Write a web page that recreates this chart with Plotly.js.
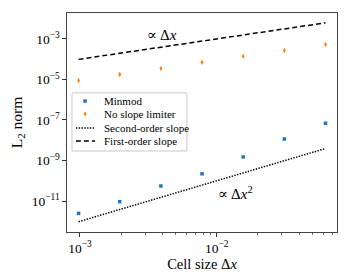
<!DOCTYPE html>
<html>
<head>
<meta charset="utf-8">
<script src="https://cdn.plot.ly/plotly-3.0.1.min.js"></script>
<style>html,body{margin:0;padding:0;background:#fff;}#chart{width:350px;height:280px;}</style>
</head>
<body>
<div id="chart"></div>
<script>
const cellSize = [1/1024, 1/512, 1/256, 1/128, 1/64, 1/32, 1/16];
const minmod = [2.45e-12, 9.3e-12, 5.5e-11, 2.2e-10, 1.5e-9, 1.15e-8, 6.9e-8];
const noLimiter = [8.9e-6, 1.78e-5, 3.5e-5, 7.0e-5, 1.4e-4, 2.7e-4, 5.3e-4];
const slopeX = [1/1024, 1/16];
const secondOrder = [9.5e-13, 3.9e-9];
const firstOrder = [9.8e-5, 6.25e-3];
const seriesNames = ['Minmod', 'No slope limiter', 'Second-order slope', 'First-order slope'];
const xTickVals = [1e-3, 1e-2];
const xTickText = ['10<sup>−3</sup>', '10<sup>−2</sup>'];
const xMinorVals = [2e-3,3e-3,4e-3,5e-3,6e-3,7e-3,8e-3,9e-3,2e-2,3e-2,4e-2,5e-2,6e-2,7e-2];
const yTickVals = [1e-11, 1e-9, 1e-7, 1e-5, 1e-3];
const yTickText = ['10<sup>−11</sup>', '10<sup>−9</sup>', '10<sup>−7</sup>', '10<sup>−5</sup>', '10<sup>−3</sup>'];

const F = 'Liberation Serif, DejaVu Serif, serif';
const BLUE = '#1f77b4', ORANGE = '#ff7f0e';
const traces = [
  {x: cellSize, y: minmod, mode: 'markers', name: seriesNames[0], type: 'scatter',
   marker: {symbol: 'square', size: 3.5, color: BLUE}},
  {x: cellSize, y: noLimiter, mode: 'markers', name: seriesNames[1], type: 'scatter',
   marker: {symbol: 'diamond-tall', size: 4, color: ORANGE}},
  {x: slopeX, y: secondOrder, mode: 'lines', name: seriesNames[2], type: 'scatter',
   line: {color: '#000', width: 1.5, dash: '1.4px,1.4px'}},
  {x: slopeX, y: firstOrder, mode: 'lines', name: seriesNames[3], type: 'scatter',
   line: {color: '#000', width: 1.5, dash: '5px,3px'}}
];

// compact legend (matplotlib style) built from shapes + annotations in paper coords
const legX0 = 0.0185, legX1 = 0.444, legY0 = 0.37, legY1 = 0.635;
const rowY = [0.598, 0.539, 0.475, 0.416];
const symX = 0.067, lineXa = 0.033, lineXb = 0.104, textX = 0.128;
const shapes = [
  {type: 'rect', xref: 'paper', yref: 'paper', x0: legX0, x1: legX1, y0: legY0, y1: legY1,
   line: {color: '#c8c8c8', width: 1}, fillcolor: 'rgba(255,255,255,0.85)', layer: 'above'},
  {type: 'rect', xref: 'paper', yref: 'paper', x0: symX - 0.0065, x1: symX + 0.0065, y0: rowY[0] - 0.008, y1: rowY[0] + 0.008,
   line: {width: 0}, fillcolor: BLUE, layer: 'above'},
  {type: 'path', xref: 'paper', yref: 'paper',
   path: `M ${symX} ${rowY[1] + 0.012} L ${symX + 0.0055} ${rowY[1]} L ${symX} ${rowY[1] - 0.012} L ${symX - 0.0055} ${rowY[1]} Z`,
   line: {width: 0}, fillcolor: ORANGE, layer: 'above'},
  {type: 'line', xref: 'paper', yref: 'paper', x0: lineXa, x1: lineXb, y0: rowY[2], y1: rowY[2],
   line: {color: '#000', width: 1.5, dash: '1.4px,1.4px'}, layer: 'above'},
  {type: 'line', xref: 'paper', yref: 'paper', x0: lineXa, x1: lineXb, y0: rowY[3], y1: rowY[3],
   line: {color: '#000', width: 1.5, dash: '5px,3px'}, layer: 'above'}
];
const annotations = seriesNames.map((n, i) => ({
  xref: 'paper', yref: 'paper', x: textX, y: rowY[i], xanchor: 'left', yanchor: 'middle',
  text: n, showarrow: false, font: {family: F, size: 11, color: '#000'}
}));
annotations.push(
  {x: Math.log10(0.0030), y: Math.log10(1.5e-3), xref: 'x', yref: 'y', xanchor: 'left', yanchor: 'middle',
   text: '∝ Δ<i>x</i>', showarrow: false, font: {family: F, size: 15}},
  {x: Math.log10(0.0099), y: Math.log10(2.5e-11), xref: 'x', yref: 'y', xanchor: 'left', yanchor: 'middle',
   text: '∝ Δ<i>x</i><sup>2</sup>', showarrow: false, font: {family: F, size: 15}}
);

const layout = {
  width: 350, height: 280,
  margin: {l: 67, r: 13, t: 13, b: 48},
  paper_bgcolor: '#fff', plot_bgcolor: '#fff',
  font: {family: F, color: '#000', size: 12},
  showlegend: false,
  xaxis: {type: 'log', range: [-3.095, -1.12], showgrid: false, zeroline: false,
          tickmode: 'array', tickvals: xTickVals, ticktext: xTickText,
          ticks: 'outside', ticklen: 3.5, tickwidth: 0.8, tickcolor: '#000',
          showline: true, linecolor: '#444', linewidth: 1.1, mirror: true,
          tickfont: {family: F, size: 13.5},
          minor: {tickmode: 'array', tickvals: xMinorVals, ticks: 'outside', ticklen: 2, tickwidth: 0.6, tickcolor: '#000', showgrid: false},
          title: {text: 'Cell size Δ<i>x</i>', font: {family: F, size: 14.5}, standoff: 2}},
  yaxis: {type: 'log', range: [-12.53, -1.72], showgrid: false, zeroline: false,
          tickmode: 'array', tickvals: yTickVals, ticktext: yTickText,
          ticks: 'outside', ticklen: 3.5, tickwidth: 0.8, tickcolor: '#000',
          showline: true, linecolor: '#444', linewidth: 1.1, mirror: true,
          tickfont: {family: F, size: 13.5},
          title: {text: 'L<sub>2</sub> norm', font: {family: F, size: 15.5}, standoff: 5}},
  shapes: shapes,
  annotations: annotations
};
Plotly.newPlot('chart', traces, layout, {staticPlot: true, displayModeBar: false});
</script>
</body>
</html>
